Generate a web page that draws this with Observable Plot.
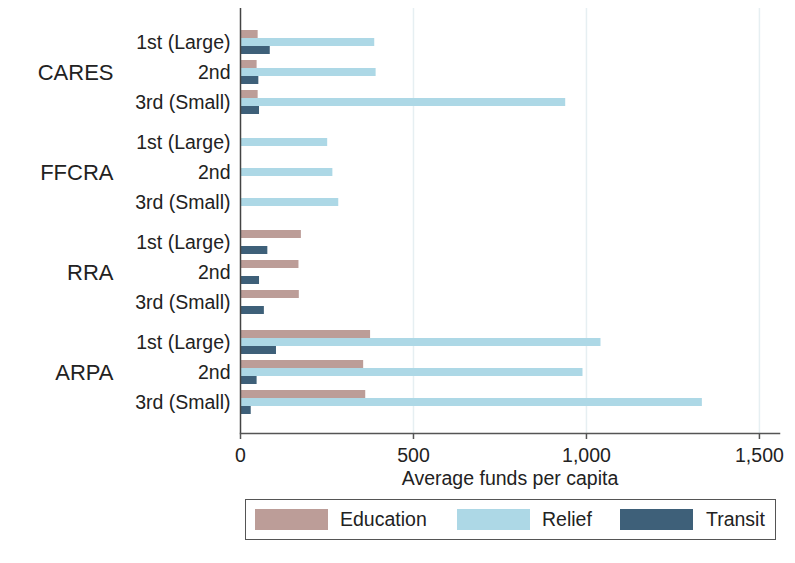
<!DOCTYPE html>
<html><head><meta charset="utf-8">
<script src="https://cdn.jsdelivr.net/npm/d3@7"></script>
<script src="https://cdn.jsdelivr.net/npm/@observablehq/plot@0.6"></script>
<style>
body{margin:0;background:#fff;font-family:"Liberation Sans",Arial,sans-serif;}
#wrap{position:relative;width:795px;height:563px;overflow:hidden;}
#legend{position:absolute;left:245px;top:499px;width:531px;height:41px;border:1px solid #555;box-sizing:border-box;}
.sw{position:absolute;top:9px;width:73px;height:21px;}
.lt{position:absolute;top:0;line-height:39px;font-size:19.5px;color:#222;white-space:nowrap;}
</style></head><body><div id="wrap"><div id="chart"></div><div id="legend"></div></div>
<script>
const programs = ["CARES", "FFCRA", "RRA", "ARPA"];
const sizes = ["1st (Large)", "2nd", "3rd (Small)"];
const series = ["Education", "Relief", "Transit"];
const colors = ["#bc9d98", "#add8e6", "#3e6079"];
// values per program x size (CARES 1st,2nd,3rd, FFCRA ..., RRA ..., ARPA ...)
const education = [51, 48, 51, 0, 0, 0, 176, 169, 170, 376, 356, 362];
const relief = [388, 392, 940, 252, 267, 284, 0, 0, 0, 1042, 990, 1335];
const transit = [86, 53, 55, 0, 0, 0, 79, 55, 69, 104, 48, 31];
const xTicks = [0, 500, 1000, 1500];
const xMax = 1558;

const valuesBySeries = {Education: education, Relief: relief, Transit: transit};
const keyOf = (p, s, ser) => `${p}|${s}|${ser}`;

const yDomain = [];
programs.forEach((p, gi) => {
  sizes.forEach(s => series.forEach(ser => yDomain.push(keyOf(p, s, ser))));
  if (gi < programs.length - 1) yDomain.push(`${p}|gap`);
});

const data = [];
programs.forEach((p, gi) => sizes.forEach((s, si) => series.forEach(ser => {
  const v = valuesBySeries[ser][gi * sizes.length + si];
  if (v > 0) data.push({program: p, size: s, series: ser, value: v, key: keyOf(p, s, ser)});
})));

const insets = {Education: [3, -1], Relief: [1, 1], Transit: [-1, 3]};

const chart = Plot.plot({
  width: 795,
  height: 495,
  marginLeft: 240,
  marginRight: 16,
  marginTop: 8,
  marginBottom: 62,
  style: {fontFamily: "Liberation Sans, Arial, sans-serif", fontSize: "19.5px", color: "#222", background: "#fff"},
  x: {domain: [0, xMax]},
  y: {type: "band", domain: yDomain, padding: 0, insetTop: 18.5, insetBottom: 16.5},
  marks: [
    Plot.ruleX(xTicks.slice(1), {stroke: "#e6eff2", strokeWidth: 1.5}),
    ...series.map((ser, i) => Plot.barX(data.filter(d => d.series === ser), {
      x: "value", y: "key", fill: colors[i],
      insetTop: insets[ser][0], insetBottom: insets[ser][1]
    })),
    Plot.ruleX([0], {stroke: "#444", strokeWidth: 1.5}),
    Plot.frame({anchor: "bottom", stroke: "#555", strokeWidth: 1.5}),
    Plot.axisX({ticks: xTicks, tickFormat: d3.format(","), tickSize: 6, tickPadding: 9, fontSize: 19.5, stroke: "#555", strokeWidth: 1.5, label: null}),
    Plot.axisY({ticks: programs.flatMap(p => sizes.map(s => keyOf(p, s, "Relief"))), tickFormat: k => k.split("|")[1], tickSize: 0, tickPadding: 10, fontSize: 19.5, label: null}),
    Plot.text(programs, {y: p => keyOf(p, "2nd", "Relief"), text: d => d, frameAnchor: "left", dx: -127, textAnchor: "end", fontSize: 22}),
    Plot.text(["Average funds per capita"], {text: d => d, frameAnchor: "bottom", dy: 51, fontSize: 19.5})
  ]
});
document.getElementById("chart").appendChild(chart);

const legend = document.getElementById("legend");
const swX = [9, 211, 374];
const txX = [94, 296, 460];
series.forEach((ser, i) => {
  const sw = document.createElement("div");
  sw.className = "sw"; sw.style.left = swX[i] + "px"; sw.style.background = colors[i];
  legend.appendChild(sw);
  const t = document.createElement("div");
  t.className = "lt"; t.style.left = txX[i] + "px"; t.textContent = ser;
  legend.appendChild(t);
});
</script></body></html>
